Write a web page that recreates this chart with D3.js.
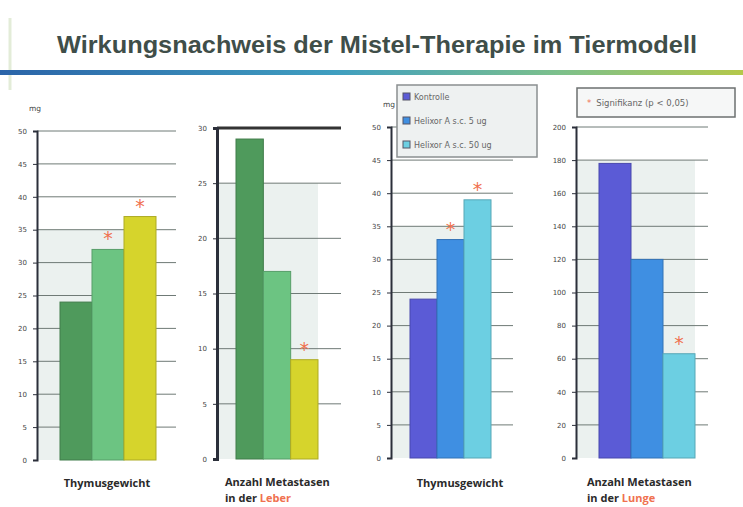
<!DOCTYPE html>
<html>
<head>
<meta charset="utf-8">
<script src="https://cdn.jsdelivr.net/npm/d3@7/dist/d3.min.js"></script>
<style>
  body { margin: 0; background: #fff; }
  svg { display: block; }
</style>
</head>
<body>
<svg id="chart" width="743" height="507"></svg>
<script>
// data
const groups = ['Kontrolle', 'Helixor A s.c. 5 ug', 'Helixor A s.c. 50 ug']
const thymusLeft = [24, 32, 37]
const leberMetastasen = [29, 17, 9]
const thymusRight = [24, 33, 39]
const lungeMetastasen = [178, 120, 63]
const sigLeft = [false, true, true]
const sigLeber = [false, false, true]
const sigRight = [false, true, true]
const sigLunge = [false, false, true]
const ticks50 = [0, 5, 10, 15, 20, 25, 30, 35, 40, 45, 50]
const ticks30 = [0, 5, 10, 15, 20, 25, 30]
const ticks200 = [0, 20, 40, 60, 80, 100, 120, 140, 160, 180, 200]

const greens = ['#4f9a5c', '#6cc482', '#d6d42c']
const blues = ['#5b5bd6', '#3f8fe2', '#6ccfe2']
const orange = '#f0714f'

const svg = d3.select('#chart')

// title + band
svg.append('line')
    .attr('x1', 10).attr('x2', 10).attr('y1', 18).attr('y2', 90)
    .style('stroke', '#e3ecd8').style('stroke-width', 3)

svg.append('text')
    .attr('x', 377).attr('y', 53)
    .attr('text-anchor', 'middle')
    .attr('font-family', 'Liberation Sans, Arial, sans-serif')
    .attr('font-weight', 'bold')
    .attr('font-size', 24)
    .attr('textLength', 640)
    .attr('lengthAdjust', 'spacingAndGlyphs')
    .style('fill', '#3f4e49')
    .text('Wirkungsnachweis der Mistel-Therapie im Tiermodell')

const grad = svg.append('defs').append('linearGradient').attr('id', 'band')
grad.append('stop').attr('offset', '0%').attr('stop-color', '#2b64a8')
grad.append('stop').attr('offset', '45%').attr('stop-color', '#3f9ec0')
grad.append('stop').attr('offset', '75%').attr('stop-color', '#7cc08c')
grad.append('stop').attr('offset', '100%').attr('stop-color', '#b4c84a')
svg.append('rect')
    .attr('x', 0).attr('y', 70).attr('width', 743).attr('height', 5)
    .style('fill', 'url(#band)')

// one bar panel
function panel(cfg) {
    let g = svg.append('g')
    let y = d3.scaleLinear().domain([0, cfg.max]).range([cfg.y0, cfg.yTop])
    let x = d3.scaleBand().domain(groups).range([cfg.barL, cfg.barR]).paddingInner(0)

    // light floor tint
    g.append('rect')
        .attr('x', cfg.axisX).attr('y', y(cfg.tint))
        .attr('width', cfg.barR - cfg.axisX).attr('height', cfg.y0 - y(cfg.tint))
        .style('fill', '#ebf1ef')

    // grid
    g.selectAll('.grid')
        .data(cfg.ticks.filter(t => t > 0))
        .join('line')
            .attr('x1', cfg.axisX).attr('x2', cfg.gridR)
            .attr('y1', d => y(d)).attr('y2', d => y(d))
            .style('stroke', '#6f7a76').style('stroke-width', 1)

    if (cfg.topBorder) {
        g.append('line')
            .attr('x1', cfg.axisX).attr('x2', cfg.gridR)
            .attr('y1', y(cfg.max)).attr('y2', y(cfg.max))
            .style('stroke', '#333').style('stroke-width', 3)
    }

    // bars
    g.selectAll('.bar')
        .data(cfg.values)
        .join('rect')
            .attr('x', (d, i) => x(groups[i]))
            .attr('y', d => y(d))
            .attr('width', x.bandwidth())
            .attr('height', d => cfg.y0 - y(d))
            .style('fill', (d, i) => cfg.colors[i])
            .style('stroke', (d, i) => d3.color(cfg.colors[i]).darker(0.6))
            .style('stroke-width', 1)

    // significance stars
    g.selectAll('.star')
        .data(cfg.values.map((v, i) => ({v, i})).filter(d => cfg.sig[d.i]))
        .join('text')
            .attr('x', d => x(groups[d.i]) + x.bandwidth() / 2)
            .attr('y', d => y(d.v) - 4)
            .attr('text-anchor', 'middle')
            .attr('font-family', 'DejaVu Sans, sans-serif')
            .attr('font-size', 19)
            .style('fill', orange)
            .text('*')

    // y axis
    let axis = d3.axisLeft(y).tickValues(cfg.ticks).tickSize(4).tickPadding(6)
    let ax = g.append('g')
        .attr('transform', `translate(${cfg.axisX},0)`)
        .call(axis)
    ax.select('.domain').style('stroke', '#2b2f3a').style('stroke-width', cfg.axisW)
    ax.selectAll('.tick line').style('stroke', '#2b2f3a')
    ax.selectAll('.tick text')
        .attr('font-family', 'DejaVu Sans, sans-serif')
        .attr('font-size', 7)
        .style('fill', '#444')

    if (cfg.unit) {
        g.append('text')
            .attr('x', cfg.axisX - 8).attr('y', cfg.yTop - 20)
            .attr('font-family', 'DejaVu Sans, sans-serif')
            .attr('font-size', 7.5)
            .style('fill', '#444')
            .text(cfg.unit)
    }

    // category label
    let lab = g.append('text')
        .attr('font-family', 'Open Sans, sans-serif')
        .attr('font-weight', 'bold')
        .attr('font-size', 11)
        .style('fill', '#2a2a2a')
    if (cfg.organ) {
        lab.attr('x', cfg.labelX).attr('y', 486)
        lab.append('tspan').text('Anzahl Metastasen')
        let l2 = g.append('text')
            .attr('x', cfg.labelX).attr('y', 502)
            .attr('font-family', 'Open Sans, sans-serif')
            .attr('font-weight', 'bold')
            .attr('font-size', 11)
            .style('fill', '#2a2a2a')
        l2.append('tspan').text('in der ')
        l2.append('tspan').style('fill', orange).text(cfg.organ)
    } else {
        lab.attr('x', cfg.labelX).attr('y', 487)
            .attr('text-anchor', 'middle')
            .text('Thymusgewicht')
    }
}

panel({values: thymusLeft, sig: sigLeft, colors: greens, max: 50, ticks: ticks50,
    y0: 460, yTop: 131, axisX: 37, barL: 60, barR: 156, gridR: 176, tint: 35,
    axisW: 2, unit: 'mg', labelX: 107})
panel({values: leberMetastasen, sig: sigLeber, colors: greens, max: 30, ticks: ticks30,
    y0: 459, yTop: 128, axisX: 217, barL: 236, barR: 318, gridR: 341, tint: 25,
    axisW: 3, topBorder: true, organ: 'Leber', labelX: 225})
panel({values: thymusRight, sig: sigRight, colors: blues, max: 50, ticks: ticks50,
    y0: 458, yTop: 127, axisX: 391, barL: 410, barR: 491, gridR: 513, tint: 35,
    axisW: 2, unit: 'mg', labelX: 460})
panel({values: lungeMetastasen, sig: sigLunge, colors: blues, max: 200, ticks: ticks200,
    y0: 458, yTop: 127, axisX: 576, barL: 599, barR: 695, gridR: 708, tint: 180,
    axisW: 2, organ: 'Lunge', labelX: 587})

// legend
let leg = svg.append('g')
leg.append('rect')
    .attr('x', 397).attr('y', 85).attr('width', 140).attr('height', 72)
    .style('fill', '#eef1f1').style('stroke', '#8a8f90').style('stroke-width', 1.5)
leg.selectAll('.item')
    .data(groups)
    .join('g')
        .attr('transform', (d, i) => `translate(403,${93 + i * 24})`)
        .each(function(d, i) {
            let it = d3.select(this)
            it.append('rect').attr('width', 7).attr('height', 7)
                .style('fill', blues[i]).style('stroke', '#556')
            it.append('text').attr('x', 11).attr('y', 7)
                .attr('font-family', 'DejaVu Sans, sans-serif')
                .attr('font-size', 8)
                .style('fill', '#666')
                .text(d)
        })

// significance box
let sb = svg.append('g')
sb.append('rect')
    .attr('x', 577).attr('y', 88).attr('width', 158).attr('height', 29)
    .style('fill', '#f6f7f7').style('stroke', '#6c7070').style('stroke-width', 1.5)
let st = sb.append('text')
    .attr('x', 587).attr('y', 106)
    .attr('font-family', 'DejaVu Sans, sans-serif')
    .attr('font-size', 8.5)
    .style('fill', '#666')
st.append('tspan').style('fill', orange).text('*')
st.append('tspan').attr('dx', 5).text('Signifikanz (p < 0,05)')
</script>
</body>
</html>
